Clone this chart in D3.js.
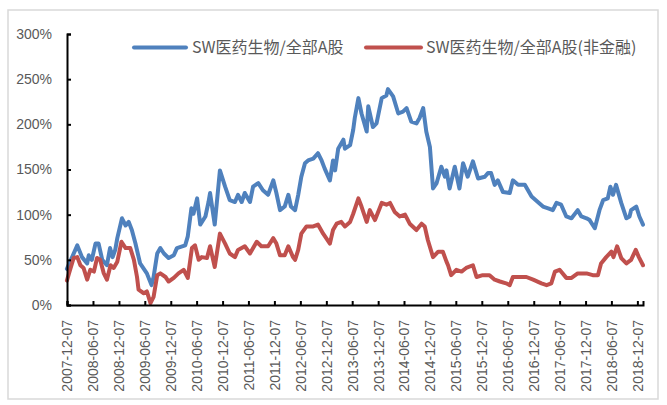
<!DOCTYPE html>
<html>
<head>
<meta charset="utf-8">
<script src="https://cdn.jsdelivr.net/npm/d3@7"></script>
<style>
  body { margin: 0; background: #fff; }
  svg text { font-family: "Liberation Sans", Arial, sans-serif; fill: #595959; }
  .legend text { font-family: "Noto Sans CJK SC", "Liberation Sans", sans-serif; }
</style>
</head>
<body>
<div id="chart"></div>
<script>
const seriesNames = ["SW医药生物/全部A股", "SW医药生物/全部A股(非金融)"];

const tickLabels = ["2007-12-07", "2008-06-07", "2008-12-07", "2009-06-07", "2009-12-07",
  "2010-06-07", "2010-12-07", "2011-06-07", "2011-12-07", "2012-06-07", "2012-12-07",
  "2013-06-07", "2013-12-07", "2014-06-07", "2014-12-07", "2015-06-07", "2015-12-07",
  "2016-06-07", "2016-12-07", "2017-06-07", "2017-12-07", "2018-06-07", "2018-12-07"];

const yTicks = [0, 50, 100, 150, 200, 250, 300];

// decimal years + percent values
const blueYears = [2007.93, 2008.13, 2008.22, 2008.32, 2008.35, 2008.41, 2008.48, 2008.54, 2008.61, 2008.70,
  2008.76, 2008.81, 2008.86, 2008.90, 2008.99, 2009.06, 2009.12, 2009.18, 2009.25, 2009.34,
  2009.47, 2009.56, 2009.60, 2009.67, 2009.73, 2009.80, 2009.89, 2009.99, 2010.05, 2010.21,
  2010.26, 2010.33, 2010.37, 2010.44, 2010.50, 2010.60, 2010.66, 2010.69, 2010.78, 2010.88,
  2010.98, 2011.07, 2011.17, 2011.23, 2011.30, 2011.36, 2011.46, 2011.52, 2011.62, 2011.71,
  2011.81, 2011.91, 2011.97, 2012.04, 2012.13, 2012.20, 2012.25, 2012.33, 2012.39, 2012.45,
  2012.52, 2012.58, 2012.68, 2012.77, 2012.84, 2012.90, 2013.00, 2013.06, 2013.10, 2013.16,
  2013.26, 2013.29, 2013.39, 2013.45, 2013.48, 2013.55, 2013.61, 2013.71, 2013.74, 2013.83,
  2013.90, 2014.00, 2014.09, 2014.12, 2014.22, 2014.32, 2014.41, 2014.48, 2014.57, 2014.67,
  2014.73, 2014.80, 2014.86, 2014.93, 2014.99, 2015.06, 2015.15, 2015.22, 2015.25, 2015.31,
  2015.41, 2015.50, 2015.57, 2015.66, 2015.76, 2015.86, 2015.99, 2016.05, 2016.11, 2016.18,
  2016.24, 2016.34, 2016.47, 2016.53, 2016.63, 2016.76, 2016.89, 2017.01, 2017.11, 2017.21,
  2017.30, 2017.37, 2017.46, 2017.56, 2017.66, 2017.78, 2017.85, 2017.95, 2018.01, 2018.11,
  2018.20, 2018.27, 2018.36, 2018.41, 2018.46, 2018.52, 2018.62, 2018.72, 2018.78, 2018.81,
  2018.91, 2018.97, 2019.04];
const blueValues = [40, 66, 53, 46, 55, 50, 68, 68, 50, 44,
  63, 53, 61, 74, 96, 88, 92, 83, 68, 46,
  35, 22, 31, 57, 63, 57, 52, 55, 63, 66,
  76, 107, 101, 118, 89, 98, 114, 124, 89, 149,
  131, 116, 114, 122, 114, 124, 114, 131, 135, 127,
  122, 138, 124, 105, 109, 122, 109, 105, 122, 142,
  157, 160, 162, 168, 160, 151, 138, 160, 149, 173,
  183, 173, 177, 194, 207, 229, 212, 192, 220, 197,
  201, 229, 232, 239, 231, 212, 214, 218, 203, 201,
  207, 218, 192, 175, 129, 135, 153, 142, 149, 129,
  153, 129, 157, 142, 159, 140, 142, 146, 146, 133,
  138, 125, 124, 138, 133, 133, 120, 114, 109, 107,
  105, 113, 111, 98, 96, 105, 98, 96, 94, 85,
  105, 116, 118, 131, 122, 133, 113, 96, 98, 105,
  109, 98, 89];

const redYears = [2007.93, 2007.97, 2008.06, 2008.13, 2008.19, 2008.25, 2008.32, 2008.38, 2008.45, 2008.51,
  2008.57, 2008.64, 2008.70, 2008.77, 2008.83, 2008.90, 2008.98, 2009.06, 2009.15, 2009.22,
  2009.28, 2009.31, 2009.41, 2009.47, 2009.54, 2009.60, 2009.67, 2009.73, 2009.83, 2009.89,
  2009.99, 2010.08, 2010.18, 2010.26, 2010.34, 2010.40, 2010.47, 2010.53, 2010.63, 2010.69,
  2010.78, 2010.88, 2010.98, 2011.07, 2011.17, 2011.23, 2011.36, 2011.46, 2011.59, 2011.68,
  2011.81, 2011.91, 2011.97, 2012.04, 2012.13, 2012.20, 2012.29, 2012.33, 2012.39, 2012.45,
  2012.55, 2012.68, 2012.77, 2012.87, 2013.00, 2013.06, 2013.13, 2013.22, 2013.29, 2013.39,
  2013.45, 2013.55, 2013.61, 2013.71, 2013.77, 2013.87, 2014.00, 2014.09, 2014.16, 2014.25,
  2014.35, 2014.45, 2014.54, 2014.67, 2014.77, 2014.83, 2014.89, 2014.99, 2015.09, 2015.18,
  2015.25, 2015.28, 2015.34, 2015.44, 2015.54, 2015.63, 2015.76, 2015.83, 2015.95, 2016.08,
  2016.18, 2016.28, 2016.40, 2016.47, 2016.53, 2016.63, 2016.79, 2016.92, 2017.08, 2017.18,
  2017.27, 2017.34, 2017.43, 2017.56, 2017.66, 2017.78, 2017.95, 2018.07, 2018.17, 2018.23,
  2018.33, 2018.43, 2018.47, 2018.54, 2018.62, 2018.72, 2018.81, 2018.90, 2018.96, 2019.04];
const redValues = [27, 35, 52, 53, 44, 41, 28, 39, 37, 52,
  50, 35, 28, 44, 41, 48, 70, 63, 63, 50,
  31, 17, 13, 15, 2, 9, 33, 35, 31, 26,
  30, 35, 39, 30, 63, 66, 50, 53, 52, 65,
  42, 79, 68, 57, 53, 61, 65, 57, 70, 65,
  65, 74, 68, 55, 55, 65, 53, 50, 61, 79,
  87, 87, 89, 79, 68, 83, 90, 92, 87, 92,
  101, 118, 109, 92, 105, 94, 113, 111, 113, 103,
  98, 100, 90, 83, 90, 87, 72, 53, 59, 59,
  48, 44, 33, 39, 37, 41, 44, 31, 33, 33,
  28, 26, 24, 22, 31, 31, 31, 28, 24, 22,
  24, 37, 39, 30, 30, 35, 35, 33, 33, 46,
  53, 59, 53, 65, 52, 46, 50, 61, 53, 44];

const colors = ["#4F81BD", "#C0504D"];

function yearToDate(v) {
    const yr = Math.floor(v);
    const a = Date.UTC(yr, 0, 1), b = Date.UTC(yr + 1, 0, 1);
    return new Date(a + (v - yr) * (b - a));
}

const W = 667, H = 405;
const plotLeft = 67, plotRight = 643, plotTop = 34, plotBottom = 305;

const svg = d3.select("#chart").append("svg").attr("width", W).attr("height", H);

svg.append("rect")
    .attr("x", 8).attr("y", 10).attr("width", 650).attr("height", 389)
    .attr("fill", "#fff").attr("stroke", "#d9d9d9").attr("stroke-width", 1.5);

const parse = d3.utcParse("%Y-%m-%d");
const tickDates = tickLabels.map(parse);

const x = d3.scaleUtc().domain([tickDates[0], yearToDate(2019.04)]).range([plotLeft, plotRight]);
const y = d3.scaleLinear().domain([0, 300]).range([plotBottom, plotTop]);

const line = d3.line()
    .x(d => x(yearToDate(d[0])))
    .y(d => y(d[1]));

const blueData = blueYears.map((t, i) => [t, blueValues[i]]);
const redData = redYears.map((t, i) => [t, redValues[i]]);

[blueData, redData].forEach((data, i) => {
    svg.append("path")
        .datum(data)
        .attr("fill", "none")
        .attr("stroke", colors[i])
        .attr("stroke-width", 4)
        .attr("stroke-linejoin", "round")
        .attr("stroke-linecap", "round")
        .attr("d", line);
});

const yAxis = svg.append("g")
    .attr("transform", `translate(${plotLeft},0)`)
    .call(d3.axisLeft(y).tickValues(yTicks).tickSize(-4).tickPadding(15).tickFormat(d => d + "%"));
yAxis.select(".domain").attr("stroke", "#000").attr("stroke-width", 2);
yAxis.selectAll(".tick line").attr("stroke", "#000").attr("stroke-width", 2);
yAxis.selectAll("text").style("font-size", "14px").attr("fill", "#595959");

const xAxis = svg.append("g")
    .attr("transform", `translate(0,${plotBottom})`)
    .call(d3.axisBottom(x).tickValues(tickDates).tickSize(-4).tickFormat((d, i) => tickLabels[i]));
xAxis.select(".domain").attr("stroke", "#000").attr("stroke-width", 2);
xAxis.selectAll(".tick line").attr("stroke", "#000").attr("stroke-width", 2);
xAxis.selectAll("text")
    .style("font-size", "14px")
    .attr("fill", "#595959")
    .attr("transform", "rotate(-90)")
    .attr("text-anchor", "end")
    .attr("x", -15)
    .attr("y", 0)
    .attr("dy", "0.35em");

// legend
const legend = svg.append("g").attr("class", "legend");
const legendX = [[134, 186, 192], [366, 421, 426]];
seriesNames.forEach((name, i) => {
    legend.append("line")
        .attr("x1", legendX[i][0]).attr("x2", legendX[i][1])
        .attr("y1", 47.5).attr("y2", 47.5)
        .attr("stroke", colors[i]).attr("stroke-width", 4).attr("stroke-linecap", "round");
    legend.append("text")
        .attr("x", legendX[i][2]).attr("y", 47.5).attr("dy", "0.35em")
        .style("font-size", "16px")
        .text(name);
});
</script>
</body>
</html>
